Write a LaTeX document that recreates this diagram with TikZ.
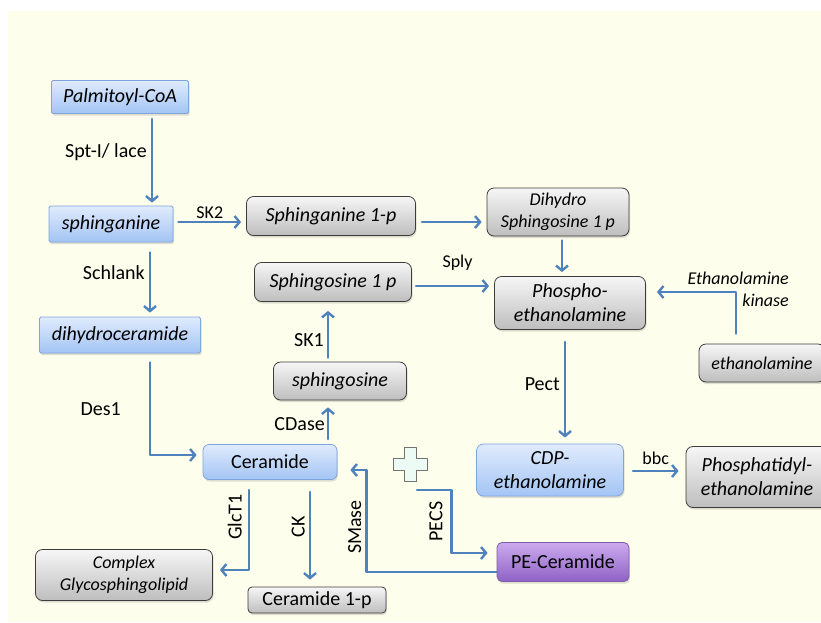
\documentclass[tikz,border=0pt]{standalone}
\usepackage{fontspec}
\setmainfont{Carlito}
\usetikzlibrary{arrows.meta,calc,shadows}
\definecolor{paper}{RGB}{254,254,236}
\definecolor{flowblue}{RGB}{79,129,189}
\definecolor{bluetop}{RGB}{224,235,253}
\definecolor{bluebot}{RGB}{163,196,244}
\definecolor{bluedge}{RGB}{126,164,222}
\definecolor{greytop}{RGB}{246,246,246}
\definecolor{greybot}{RGB}{190,190,190}
\definecolor{greyedge}{RGB}{60,60,60}
\definecolor{purptop}{RGB}{204,170,238}
\definecolor{purpbot}{RGB}{142,98,197}
\definecolor{purpedge}{RGB}{128,92,170}
\definecolor{mint}{RGB}{236,252,244}
\begin{document}
\begin{tikzpicture}[x=1pt,y=-1pt,>={Straight Barb[length=5pt,width=12pt]},line join=round,line cap=round,
  every node/.style={font=\fontsize{20}{24}\selectfont},
  it/.style={font=\fontsize{20}{24}\selectfont\itshape},
  itsmall/.style={font=\fontsize{18}{22}\selectfont\itshape},
  box/.style={inner sep=2pt,align=center,line width=0.8pt,drop shadow={shadow xshift=1pt,shadow yshift=-2pt,opacity=0.25}},
  bluebox/.style={box,draw=bluedge,top color=bluetop,bottom color=bluebot,rounded corners=1.5pt},
  greybox/.style={box,draw=greyedge,top color=greytop,bottom color=greybot,rounded corners=7pt},
  purplebox/.style={box,draw=purpedge,top color=purptop,bottom color=purpbot,rounded corners=5pt},
  flow/.style={->,draw=flowblue,line width=2.4pt},
  lbl/.style={inner sep=1pt},
  lblsmall/.style={inner sep=1pt,font=\fontsize{18}{22}\selectfont}]
\useasboundingbox (0,0) rectangle (821,622);
\fill[paper] (8,11) rectangle (821,622);
% sphingolipid side
\node[bluebox,it,minimum width=137,minimum height=33] (palm) at (120,97) {Palmitoyl-CoA};
\node[bluebox,it,minimum width=124,minimum height=36] (sphin) at (111,224) {sphinganine};
\node[bluebox,it,minimum width=161,minimum height=36] (dhc) at (120,335) {dihydroceramide};
\node[greybox,it,minimum width=169,minimum height=39] (sa1p) at (331,216) {Sphinganine 1-p};
\node[greybox,itsmall,minimum width=142,minimum height=48] (dhs) at (558,212) {Dihydro\\Sphingosine 1 p};
\node[greybox,it,minimum width=157,minimum height=39] (so1p) at (333,282) {Sphingosine 1 p};
\node[greybox,it,minimum width=133,minimum height=38] (sph) at (340,381) {sphingosine};
\node[bluebox,rounded corners=6pt,minimum width=134,minimum height=35] (cer) at (270,462) {Ceramide};
\node[greybox,itsmall,minimum width=177,minimum height=51] (cgsl) at (124,575) {Complex\\Glycosphingolipid};
\node[greybox,rounded corners=4pt,minimum width=138,minimum height=26] (c1p) at (317,600) {Ceramide 1-p};
% ethanolamine side
\node[greybox,it,minimum width=151,minimum height=53] (pea) at (570,303) {Phospho-\\ethanolamine};
\node[greybox,itsmall,minimum width=126,minimum height=38] (etha) at (762,363) {ethanolamine};
\node[bluebox,it,rounded corners=7pt,minimum width=147,minimum height=52] (cdp) at (550,470) {CDP-\\ethanolamine};
\node[greybox,it,minimum width=142,minimum height=61] (ptde) at (757,477) {Phosphatidyl-\\ethanolamine};
\node[purplebox,minimum width=132,minimum height=39] (pecer) at (563,562) {PE-Ceramide};
\node[itsmall,align=right,anchor=east,inner sep=0pt] (ekin) at (789,289) {Ethanolamine\\kinase};
% plus sign
\coordinate (plus) at (410,464);
\draw[fill=mint,draw=black!55,line width=0.9pt] ($(plus)+(-6,-17)$) -- ++(12,0) -- ++(0,11) -- ++(11,0) -- ++(0,12)
  -- ++(-11,0) -- ++(0,11) -- ++(-12,0) -- ++(0,-11) -- ++(-11,0) -- ++(0,-12) -- ++(11,0) -- cycle;
% arrows
\draw[flow] ($(palm.south)+(32,5)$) -- node[lbl,left=3pt,pos=0.4]{Spt-I/ lace} ($(sphin.north)+(41,-3)$);
\draw[flow] ($(sphin.east)+(5,-2)$) -- node[lblsmall,above=1pt]{SK2} ($(sa1p.west)+(-5,6)$);
\draw[flow] ($(sphin.south)+(39,10)$) -- node[lbl,left=3pt,pos=0.34]{Schlank} ($(dhc.north)+(30,-4)$);
\draw[flow] ($(dhc.south)+(30,9)$) |- node[lbl,left=27pt,pos=0.25]{Des1} ($(cer.west)+(-6,-7)$);
\draw[flow] ($(sa1p.east)+(6,6)$) -- ($(dhs.west)+(-5,10)$);
\draw[flow] ($(dhs.south)+(4,4)$) -- ($(pea.north)+(-8,-4)$);
\draw[flow] ($(so1p.east)+(4,4)$) -- node[lblsmall,above=13pt,xshift=5pt]{Sply} ($(pea.west)+(-5,-17)$);
\draw[flow] ($(etha.north)+(-26,-10)$) |- ($(pea.east)+(11,-11)$);
\draw[flow] ($(sph.north)+(-12,-4)$) -- node[lbl,left=2pt,pos=0.38]{SK1} ($(so1p.south)+(-5,9)$);
\draw[flow] ($(cer.north)+(58,-5)$) -- node[lbl,left=1pt,pos=0.48]{CDase} ($(sph.south)+(-12,7)$);
\draw[flow] ($(pea.south)+(-5,12)$) -- node[lbl,left=3pt,pos=0.44]{Pect} ($(cdp.north)+(15,-6)$);
\draw[flow] ($(cdp.east)+(9,1)$) -- node[lblsmall,above=4pt]{bbc} ($(ptde.west)+(-7,-6)$);
\draw[flow] ($(cer.south)+(-21,10)$) |- node[lbl,rotate=90,anchor=south,pos=0.17,inner sep=6pt]{GlcT1} ($(cgsl.east)+(7,-5)$);
\draw[flow] ($(cer.south)+(40,12)$) -- node[lbl,rotate=90,anchor=south,pos=0.4,inner sep=4pt]{CK} ($(c1p.north)+(-7,-7)$);
\draw[flow] ($(pecer.west)+(0,10)$) -| node[lbl,rotate=90,anchor=south,pos=0.72,inner sep=4pt]{SMase} ($(cer.east)+(29,8)$) -- ($(cer.east)+(13,8)$);
\draw[flow] ($(plus)+(7,26)$) -| node[lbl,rotate=90,anchor=south,pos=0.75,inner sep=8pt]{PECS} ($(pecer.west)+(-45,-9)$) -- ($(pecer.west)+(-9,-9)$);
\end{tikzpicture}
\end{document}
